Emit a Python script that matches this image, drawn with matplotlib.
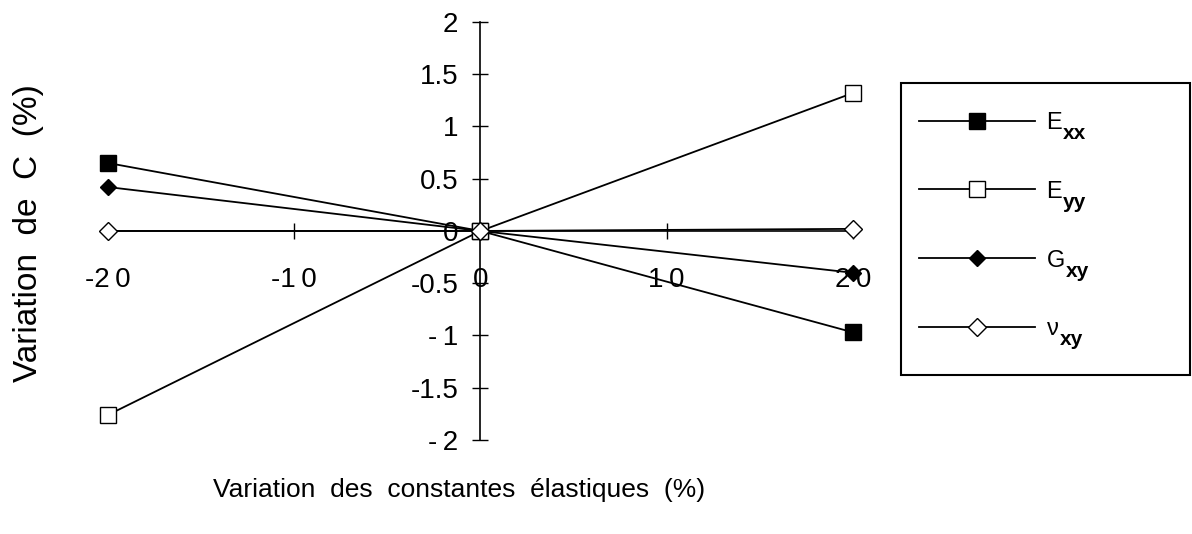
"""
Sensitivity of C to the elastic constants (Exx, Eyy, Gxy, nu_xy).
"""
import matplotlib
matplotlib.use("Agg")
import matplotlib.pyplot as plt
from matplotlib.patches import Rectangle

plt.rcParams["font.family"] = ["Liberation Sans", "DejaVu Sans"]

variation = [-20, 0, 20]
c_exx = [0.65, 0.0, -0.97]
c_eyy = [-1.76, 0.0, 1.32]
c_gxy = [0.42, 0.0, -0.40]
c_nuxy = [0.0, 0.0, 0.02]

series_names = ["E", "E", "G", "ν"]
series_subs = ["xx", "yy", "xy", "xy"]

x_ticks = [-20, -10, 0, 10, 20]
x_labels = ["-2\u20090", "-1\u20090", "0", "1\u20090", "2\u20090"]
y_ticks = [-2, -1.5, -1, -0.5, 0, 0.5, 1, 1.5, 2]
y_labels = ["-\u20092", "-1.5", "-\u20091", "-0.5", "0", "0.5", "1", "1.5", "2"]

fig = plt.figure(figsize=(11.92, 5.34), dpi=100)
ax = fig.add_axes([0.0906, 0.176, 0.625, 0.783])

common = dict(color="black", lw=1.3, clip_on=False, zorder=3)
ax.plot(variation, c_exx, marker="s", ms=11, mfc="black", mec="black", label=series_names[0], **common)
ax.plot(variation, c_eyy, marker="s", ms=11, mfc="white", mec="black", label=series_names[1], **common)
ax.plot(variation, c_gxy, marker="D", ms=8, mfc="black", mec="black", label=series_names[2], **common)
ax.plot(variation, c_nuxy, marker="D", ms=9, mfc="white", mec="black", label=series_names[3], **common)

ax.set_xlim(-20, 20)
ax.set_ylim(-2, 2)
ax.spines["left"].set_position(("data", 0))
ax.spines["bottom"].set_position(("data", 0))
ax.spines["right"].set_visible(False)
ax.spines["top"].set_visible(False)
ax.spines["left"].set_linewidth(1.2)
ax.spines["bottom"].set_linewidth(1.2)

ax.set_xticks(x_ticks)
ax.set_xticklabels(x_labels)
ax.set_yticks(y_ticks)
ax.set_yticklabels(y_labels)
ax.tick_params(axis="x", direction="inout", length=12, width=1, labelsize=20, pad=20)
ax.tick_params(axis="y", direction="inout", length=12, width=1, labelsize=20, pad=10)

fig.text(0.024, 0.564, "Variation  de  C  (%)", rotation=90, ha="center", va="center", fontsize=24)
fig.text(0.385, 0.083, "Variation  des  constantes  élastiques  (%)", ha="center", va="center", fontsize=19)

# legend frame drawn separately so it can run to the right edge like the original
fig.add_artist(Rectangle((901 / 1192, 1 - 375 / 534), 289 / 1192, 292 / 534, transform=fig.transFigure,
                         fill=False, edgecolor="black", lw=1.5))
leg = fig.legend(loc="upper left", bbox_to_anchor=(919 / 1192, 1 - 112 / 534), frameon=False,
                 fontsize=17, handlelength=4.9, handletextpad=0.5, labelspacing=1.98,
                 borderpad=0, borderaxespad=0)

# bold subscripts next to each legend label
fig.canvas.draw()
for txt, sub in zip(leg.get_texts(), series_subs):
    bb = txt.get_window_extent()
    fig.text((bb.x1 + 1) / 1192, (bb.y0 - 5) / 534, sub, fontsize=15, fontweight="bold",
             ha="left", va="baseline")

fig.savefig("out.png", dpi=100)
